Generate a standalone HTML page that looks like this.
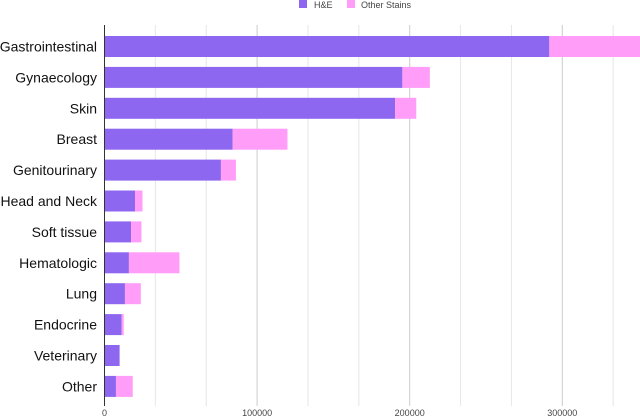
<!DOCTYPE html>
<html><head><meta charset="utf-8"><style>
body{margin:0;background:#fff;}
svg{display:block;font-family:"Liberation Sans",Arial,sans-serif;}
</style></head><body>
<svg id="chart" width="640" height="420"></svg>
<script>
const categories=["Gastrointestinal","Gynaecology","Skin","Breast","Genitourinary","Head and Neck","Soft tissue","Hematologic","Lung","Endocrine","Veterinary","Other"];
const heValues=[291500,195200,190400,83900,76300,20000,17400,16000,13400,11200,9900,7500];
const otherValues=[60500,18000,13900,36000,9800,4900,6800,33100,10400,1400,0,11000];
const tickValues=[0,100000,200000,300000];
const tickLabels=["0","100000","200000","300000"];
const NS="http://www.w3.org/2000/svg";
const svgEl=document.getElementById('chart');
const x0=104.5,pxPer=152.6/100000,plotTop=25,plotBottom=406,rowStep=30.9,firstCenter=46.5,barH=21;
const xs=v=>x0+v*pxPer;
const yc=i=>firstCenter+i*rowStep;
function mk(t,a){const e=document.createElementNS(NS,t);for(const k in a)e.setAttribute(k,a[k]);svgEl.appendChild(e);return e;}
for(let k=1;k<=10;k++){const v=k*100000/3;const g=mk('line',{x1:xs(v),x2:xs(v),y1:plotTop,y2:plotBottom,stroke:(k%3===0)?'#cccccc':'#e6e6e6','stroke-width':1});

}
tickValues.forEach((v,i)=>{const t=mk('text',{x:xs(v),y:416,'text-anchor':'middle','font-size':9,fill:'#444'});t.textContent=tickLabels[i];

});
categories.forEach((c,i)=>{
const y=yc(i)-barH/2;
const r1=mk('rect',{x:xs(0),y:y,width:xs(heValues[i])-xs(0),height:barH,fill:'#8e67f1'});


const r2=mk('rect',{x:xs(heValues[i]),y:y,width:Math.max(0,xs(heValues[i]+otherValues[i])-xs(heValues[i])),height:barH,fill:'#ff9df8'});


const t=mk('text',{x:97,y:yc(i)+5,'text-anchor':'end','font-size':14,fill:'#111'});t.textContent=c;


});
const ax=mk('line',{x1:x0,x2:x0,y1:plotTop,y2:plotBottom,stroke:'#333','stroke-width':1});


const l1=mk('rect',{x:299,y:0,width:8,height:8,fill:'#8e67f1'});


const lt1=mk('text',{x:314,y:8,'font-size':9,fill:'#444'});lt1.textContent='H&E';


const l2=mk('rect',{x:347,y:0,width:8,height:8,fill:'#ff9df8'});


const lt2=mk('text',{x:361,y:8,'font-size':9,fill:'#444'});lt2.textContent='Other Stains';


</script>
</body></html>
